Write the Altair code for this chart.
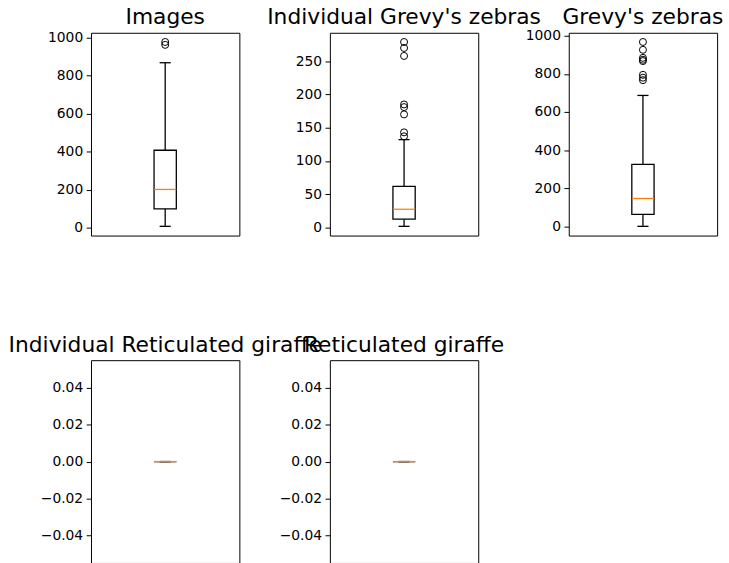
import altair as alt
import pandas as pd

# Box-plot summaries, one entry per panel
titles = [
    "Images",
    "Individual Grevy's zebras",
    "Grevy's zebras",
    "Individual Reticulated giraffe",
    "Reticulated giraffe",
]
whisker_low = [8, 1.5, 1, 0, 0]
q1 = [100, 12.3, 64, 0, 0]
median = [202, 27.2, 147, 0, 0]
q3 = [408, 61.7, 326, 0, 0]
whisker_high = [868, 132, 687, 0, 0]
fliers = [
    [977, 962],
    [279, 270, 258, 185, 181, 170, 143, 137],
    [967, 926, 884, 874, 867, 795, 780, 767],
    [],
    [],
]
tick_values = [
    [0, 200, 400, 600, 800, 1000],
    [0, 50, 100, 150, 200, 250],
    [0, 200, 400, 600, 800, 1000],
    [-0.04, -0.02, 0.0, 0.02, 0.04],
    [-0.04, -0.02, 0.0, 0.02, 0.04],
]
tick_formats = ["d", "d", "d", ".2f", ".2f"]

W, H = 150, 205
LINE = 1.3
BOX_HALF = 0.075   # box half-width in x-data units (x range 0.5..1.5)
CAP_HALF = 0.0375


def limits(values):
    lo, hi = min(values), max(values)
    if lo == hi:
        lo, hi = lo - 0.05, hi + 0.05
    pad = 0.05 * (hi - lo)
    return [lo - pad, hi + pad]


def panel(i):
    stats = pd.DataFrame({
        "low": [whisker_low[i]],
        "q1": [q1[i]],
        "median": [median[i]],
        "q3": [q3[i]],
        "high": [whisker_high[i]],
    })
    out = pd.DataFrame({"value": pd.Series(fliers[i], dtype=float)})

    y_scale = alt.Scale(domain=limits([whisker_low[i], whisker_high[i]] + fliers[i]),
                        nice=False, zero=False)
    x_scale = alt.Scale(domain=[0.5, 1.5], nice=False, zero=False)
    y_axis = alt.Axis(values=tick_values[i], format=tick_formats[i], title=None,
                      grid=False, domain=False)

    def Y(field):
        return alt.Y(f"{field}:Q", scale=y_scale, axis=y_axis)

    def X(v):
        return alt.XDatum(v, type="quantitative", scale=x_scale, axis=None)

    base = alt.Chart(stats)
    whisk_lo = base.mark_rule(color="black", strokeWidth=LINE).encode(
        x=X(1.0), y=Y("low"), y2="q1")
    whisk_hi = base.mark_rule(color="black", strokeWidth=LINE).encode(
        x=X(1.0), y=Y("q3"), y2="high")
    cap_lo = base.mark_rule(color="black", strokeWidth=LINE).encode(
        x=X(1 - CAP_HALF), x2=alt.X2Datum(1 + CAP_HALF), y=Y("low"))
    cap_hi = base.mark_rule(color="black", strokeWidth=LINE).encode(
        x=X(1 - CAP_HALF), x2=alt.X2Datum(1 + CAP_HALF), y=Y("high"))
    box = base.mark_rect(fill="white", stroke="black", strokeWidth=LINE).encode(
        x=X(1 - BOX_HALF), x2=alt.X2Datum(1 + BOX_HALF), y=Y("q1"), y2="q3")
    med = base.mark_rule(color="#ff7f0e", strokeWidth=LINE).encode(
        x=X(1 - BOX_HALF), x2=alt.X2Datum(1 + BOX_HALF), y=Y("median"))
    pts = alt.Chart(out).mark_point(
        shape="circle", filled=False, stroke="black", strokeWidth=1, size=50, opacity=1
    ).encode(x=X(1.0), y=Y("value"))

    # panel heading, centred over the plot area
    head = alt.Chart(pd.DataFrame({"title": [titles[i]]})).mark_text(
        font="DejaVu Sans", fontSize=22, color="black",
        align="center", baseline="alphabetic",
    ).encode(x=alt.value(W / 2), y=alt.value(-8.5), text="title:N")

    return alt.layer(whisk_lo, whisk_hi, cap_lo, cap_hi, box, med, pts, head).properties(
        width=W, height=H,
    )


chart = alt.concat(
    *[panel(i) for i in range(5)],
    columns=3,
    spacing={"row": 126, "column": 91.5},
    bounds="flush",
).properties(
    padding={"left": 8, "top": 3, "right": 5, "bottom": 5},
    background="white",
).configure_view(
    stroke="black", strokeWidth=1
).configure_axis(
    labelFont="DejaVu Sans", labelFontSize=14, labelColor="black",
    tickColor="black", tickSize=4.9, tickWidth=1, labelPadding=3.5,
)

chart.save("out.html", embed_options={"renderer": "svg", "actions": False})
